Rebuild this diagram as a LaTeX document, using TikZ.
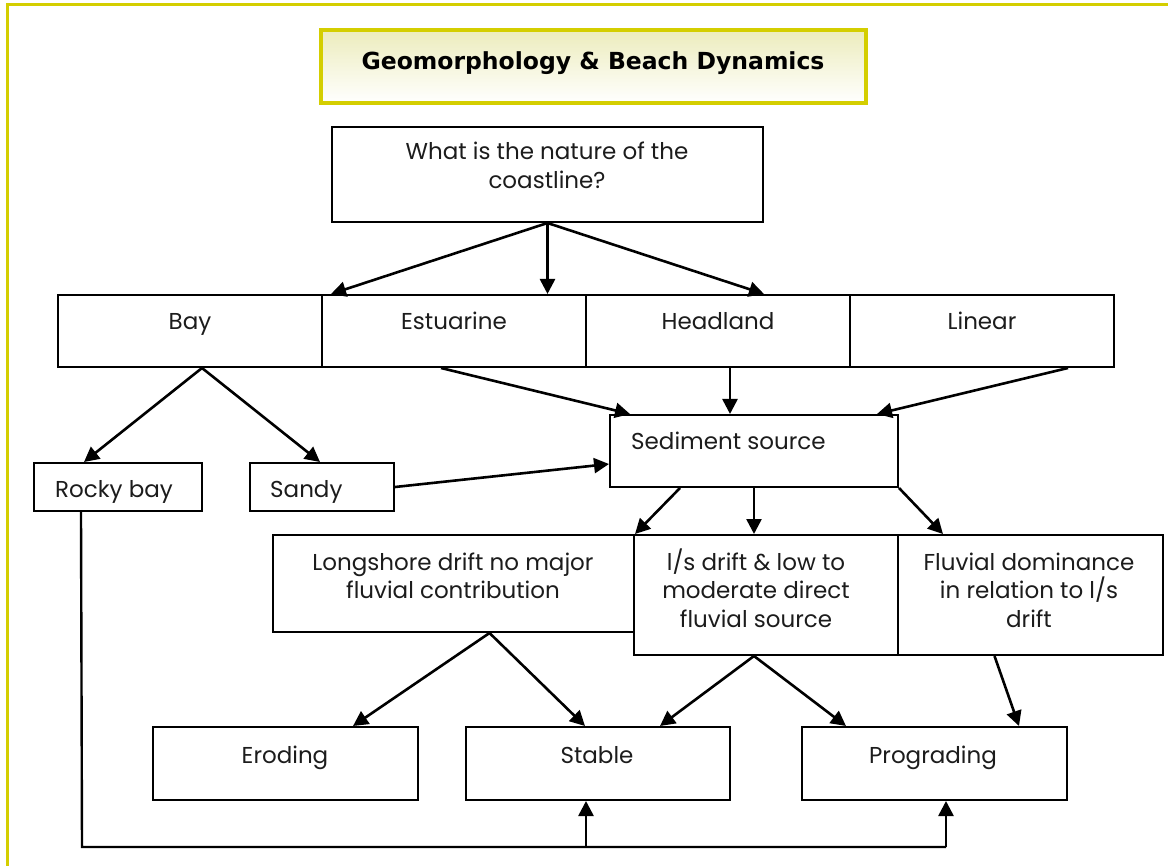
\documentclass[tikz,border=0pt]{standalone}
\usepackage{fontspec}
\setmainfont{Poppins}
\newfontfamily\headfont{DejaVu Sans}
\usetikzlibrary{arrows.meta,calc}
\definecolor{frameyellow}{RGB}{212,206,0}
\definecolor{titletop}{RGB}{236,236,188}
\definecolor{inkgray}{RGB}{28,28,28}
\tikzset{
  box/.style args={#1x#2}{draw=black,line width=2pt,minimum width=#1pt,
    minimum height=#2pt,inner sep=0pt,fill=white},
  txt/.style={inner sep=0pt,text=inkgray,align=center,anchor=base,
    font=\fontsize{23}{28.5}\selectfont},
  flow/.style={line width=2.6pt,-{Triangle[length=15pt,width=15pt]}},
  plain/.style={line width=2.4pt}
}
\begin{document}
\begin{tikzpicture}[x=1pt,y=-1pt]
\useasboundingbox (0,0) rectangle (1168,866);
\fill[white] (0,0) rectangle (1168,866);

% page frame
\draw[frameyellow,line width=3pt] (7,866) -- (7,5) -- (1168,5);

% title banner
\node[draw=frameyellow,line width=4pt,top color=titletop,bottom color=white,
  minimum width=545pt,minimum height=73pt,inner sep=0pt] (title) at (593.5,66.5) {};
\node[inner sep=0pt,anchor=base,font=\headfont\bfseries\fontsize{23.5}{26}\selectfont] (titleT) at (593,70)
  {Geomorphology \& Beach Dynamics};

% boxes
\node[box=431x95] (q) at (547.5,174.5) {};
\node[box=264x72] (bay) at (190,331) {};
\node[box=264x72] (est) at (454,331) {};
\node[box=264x72] (head) at (718,331) {};
\node[box=264x72] (lin) at (982,331) {};
\node[box=288x72] (sed) at (754,451) {};
\node[box=168x48] (rocky) at (118,487) {};
\node[box=144x48] (sandy) at (322,487) {};
\node[box=361x97] (long) at (453.5,583.5) {};
\node[box=264x120] (ls) at (766,595) {};
\node[box=265x120] (fluv) at (1030.5,595) {};
\node[box=265x73] (erod) at (285.5,763.5) {};
\node[box=264x73] (stab) at (598,763.5) {};
\node[box=265x73] (prog) at (934.5,763.5) {};

% box texts (placed by the baseline of their last line)
\node[txt] (qT) at (547,188.5) {What is the nature of the\\coastline?};
\node[txt] (bayT) at (190,330) {Bay};
\node[txt] (estT) at (454,330) {Estuarine};
\node[txt] (headT) at (718,330) {Headland};
\node[txt] (linT) at (982,330) {Linear};
\node[txt,anchor=base west] (sedT) at (631,450) {Sediment source};
\node[txt,anchor=base west] (rockyT) at (55,498) {Rocky bay};
\node[txt,anchor=base west] (sandyT) at (270,498) {Sandy};
\node[txt] (longT) at (453,598.5) {Longshore drift no major\\fluvial contribution};
\node[txt] (lsT) at (756,627) {l/s drift \& low to\\moderate direct\\fluvial source};
\node[txt] (fluvT) at (1029,627) {Fluvial dominance\\in relation to l/s\\drift};
\node[txt] (erodT) at (285,763) {Eroding};
\node[txt] (stabT) at (597,763) {Stable};
\node[txt] (progT) at (933,763) {Prograding};

% coastline type
\draw[flow] (q.south) -- ([xshift=10pt]est.north west);
\draw[flow] (q.south) -- (q.south |- est.north);
\draw[flow] (q.south) -- (q.south east |- head.north);

% bay split
\draw[flow] ([xshift=12pt]bay.south) -- ([xshift=-34pt]rocky.north);
\draw[flow] ([xshift=12pt]bay.south) -- ([xshift=-2pt]sandy.north);

% into sediment source
\draw[flow] ([xshift=-13pt]est.south) -- ([xshift=21pt]sed.north west);
\draw[flow] ([xshift=12pt]head.south) -- ([xshift=12pt]head.south |- sed.north);
\draw[flow] ([xshift=-47pt]lin.south east) -- ([xshift=-22pt]sed.north east);
\draw[flow] (sandy.east) -- ([yshift=-13pt]sed.west);

% sediment regimes
\draw[flow] ([xshift=71pt]sed.south west) -- (long.north east);
\draw[flow] (sed.south) -- (sed.south |- ls.north);
\draw[flow] (sed.south east) -- ([xshift=46pt]fluv.north west);

% outcomes
\draw[flow] ([xshift=36pt]long.south) -- ([xshift=67.5pt]erod.north);
\draw[flow] ([xshift=36pt]long.south) -- ([xshift=-13pt]stab.north);
\draw[flow] ([xshift=-12pt]ls.south) -- ([xshift=62pt]stab.north);
\draw[flow] ([xshift=-12pt]ls.south) -- ([xshift=45pt]prog.north west);
\draw[flow] ([xshift=-36pt]fluv.south) -- ([xshift=-49pt]prog.north east);

% rocky bay feedback
\coordinate (rockyfoot) at ([xshift=48pt]rocky.south west);
\coordinate (loopL) at (82,847);
\coordinate (loopS) at (586,847);
\coordinate (loopP) at (946,847);
\draw[plain,line cap=butt] (rockyfoot) -- (loopL) -- (loopP);
\draw[flow] (loopS) -- (loopS |- stab.south);
\draw[flow] (loopP) -- (loopP |- prog.south);
\end{tikzpicture}
\end{document}
